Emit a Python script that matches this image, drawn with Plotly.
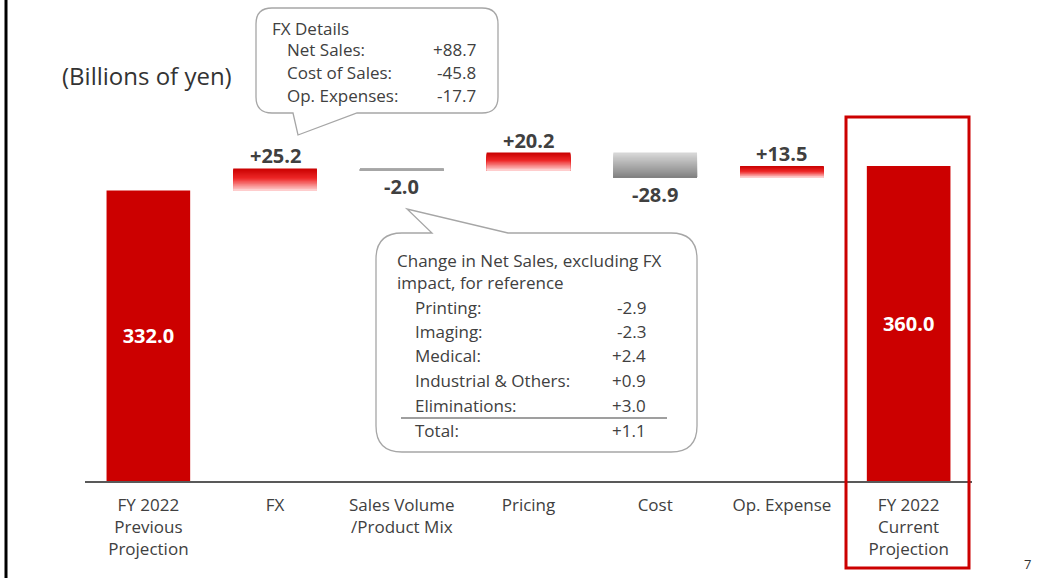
import plotly.graph_objects as go

# ---------------- data ----------------
categories = ["FY 2022<br>Previous<br>Projection", "FX", "Sales Volume<br>/Product Mix",
              "Pricing", "Cost", "Op. Expense", "FY 2022<br>Current<br>Projection"]
start_total = 332.0
end_total = 360.0
deltas = [25.2, -2.0, 20.2, -28.9, 13.5]
delta_labels = ["+25.2", "-2.0", "+20.2", "-28.9", "+13.5"]
total_labels = ["332.0", "360.0"]

fx_title = "FX Details"
fx_items = ["Net Sales:", "Cost of Sales:", "Op. Expenses:"]
fx_values = ["+88.7", "-45.8", "-17.7"]

ns_title = ["Change in Net Sales, excluding FX", "impact, for reference"]
ns_items = ["Printing:", "Imaging:", "Medical:", "Industrial & Others:", "Eliminations:", "Total:"]
ns_values = ["-2.9", "-2.3", "+2.4", "+0.9", "+3.0", "+1.1"]

# ---------------- layout geometry ----------------
W_PX, H_PX = 1037, 578
L, R, T, B = 85, 972, 20, 481
PW, PH = R - L, B - T
PX_PER_UNIT = 0.875
YMAX = PH / PX_PER_UNIT

def px(xp):
    return (xp - L) / PW

def py(yp):
    return (B - yp) / PH

FONT = "Open Sans"
TXT = "#404040"
RED = "#cc0000"
BAR_W = 0.66
CF = 17  # callout font size

fig = go.Figure()

# totals
fig.add_trace(go.Bar(
    x=[0, 6], y=[start_total, end_total], width=BAR_W,
    marker=dict(color=RED, line=dict(width=0)),
    text=total_labels, textposition="inside", insidetextanchor="middle",
    textfont=dict(family=FONT, size=20, color="white", weight="bold"),
    hoverinfo="skip", showlegend=False))

# floating bars with vertical gradient (layered)
def lerp(stops, t):
    for (t0, c0), (t1, c1) in zip(stops[:-1], stops[1:]):
        if t <= t1:
            f = (t - t0) / (t1 - t0) if t1 > t0 else 0
            return tuple(int(round(a + (b - a) * f)) for a, b in zip(c0, c1))
    return stops[-1][1]

red_stops = [(0.0, (200, 0, 0)), (0.45, (238, 40, 40)), (1.0, (255, 212, 212))]
grey_stops = [(0.0, (218, 218, 218)), (1.0, (128, 128, 128))]
flat_grey = [(0.0, (166, 166, 166)), (1.0, (166, 166, 166))]

lows, heights, stops_list, tops = [], [], [], []
running = start_total
for d in deltas:
    lo = min(running, running + d)
    lows.append(lo)
    heights.append(abs(d))
    tops.append(lo + abs(d))
    if abs(d) < 3:
        stops_list.append(flat_grey)
    elif d > 0:
        stops_list.append(red_stops)
    else:
        stops_list.append(grey_stops)
    running += d

N = 24
xs = list(range(1, 1 + len(deltas)))
for j in range(N):
    frac = (N - j) / N
    cols = []
    for st in stops_list:
        c = lerp(st, (j + 0.5) / N)
        cols.append("rgb(%d,%d,%d)" % c)
    fig.add_trace(go.Bar(
        x=xs, y=[h * frac for h in heights], base=lows, width=BAR_W,
        marker=dict(color=cols, line=dict(width=0)),
        hoverinfo="skip", showlegend=False))

annotations = []
# delta labels
for i, d in enumerate(deltas):
    if d > 0:
        annotations.append(dict(x=i + 1, y=tops[i], xref="x", yref="y", text="<b>%s</b>" % delta_labels[i],
                                showarrow=False, yanchor="bottom", yshift=-3,
                                font=dict(family=FONT, size=20, color=TXT)))
    else:
        annotations.append(dict(x=i + 1, y=lows[i], xref="x", yref="y", text="<b>%s</b>" % delta_labels[i],
                                showarrow=False, yanchor="top", yshift=-1,
                                font=dict(family=FONT, size=20, color=TXT)))

# unit label
annotations.append(dict(x=px(60), y=py(75), xref="paper", yref="paper", text="(Billions of yen)",
                        showarrow=False, xanchor="left", yanchor="middle",
                        font=dict(family=FONT, size=24, color="#333333")))

# FX callout text
annotations.append(dict(x=px(270), y=py(28), xref="paper", yref="paper", text=fx_title,
                        showarrow=False, xanchor="left", yanchor="middle",
                        font=dict(family=FONT, size=CF, color=TXT)))
for k, (it, v) in enumerate(zip(fx_items, fx_values)):
    yy = 50 + k * 22.5
    annotations.append(dict(x=px(285), y=py(yy), xref="paper", yref="paper", text=it,
                            showarrow=False, xanchor="left", yanchor="middle",
                            font=dict(family=FONT, size=CF, color=TXT)))
    annotations.append(dict(x=px(478), y=py(yy), xref="paper", yref="paper", text=v,
                            showarrow=False, xanchor="right", yanchor="middle",
                            font=dict(family=FONT, size=CF, color=TXT)))

# Net sales callout text
for k, t in enumerate(ns_title):
    annotations.append(dict(x=px(395), y=py(260 + k * 22), xref="paper", yref="paper", text=t,
                            showarrow=False, xanchor="left", yanchor="middle",
                            font=dict(family=FONT, size=CF, color=TXT)))
ns_y = [307, 331, 355, 380, 405, 430]
for it, v, yy in zip(ns_items, ns_values, ns_y):
    annotations.append(dict(x=px(413), y=py(yy), xref="paper", yref="paper", text=it,
                            showarrow=False, xanchor="left", yanchor="middle",
                            font=dict(family=FONT, size=CF, color=TXT)))
    annotations.append(dict(x=px(648), y=py(yy), xref="paper", yref="paper", text=v,
                            showarrow=False, xanchor="right", yanchor="middle",
                            font=dict(family=FONT, size=CF, color=TXT)))

# page number
annotations.append(dict(x=px(1033), y=py(564), xref="paper", yref="paper", text="7",
                        showarrow=False, xanchor="right", yanchor="middle",
                        font=dict(family=FONT, size=13, color="#333333")))

# ---------------- shapes ----------------
def path_from(cmds):
    out = []
    for c in cmds:
        if c[0] == "Z":
            out.append("Z")
        elif c[0] == "Q":
            out.append("Q%.5f,%.5f %.5f,%.5f" % (px(c[1]), py(c[2]), px(c[3]), py(c[4])))
        else:
            out.append("%s%.5f,%.5f" % (c[0], px(c[1]), py(c[2])))
    return " ".join(out)

def callout(x0, y0, x1, y1, r, tail):
    side, b0, tipx, tipy, b1 = tail
    cmds = [("M", x0 + r, y0)]
    if side == "top":
        cmds += [("L", b0, y0), ("L", tipx, tipy), ("L", b1, y0)]
    cmds += [("L", x1 - r, y0), ("Q", x1, y0, x1, y0 + r), ("L", x1, y1 - r), ("Q", x1, y1, x1 - r, y1)]
    if side == "bottom":
        cmds += [("L", b1, y1), ("L", tipx, tipy), ("L", b0, y1)]
    cmds += [("L", x0 + r, y1), ("Q", x0, y1, x0, y1 - r), ("L", x0, y0 + r), ("Q", x0, y0, x0 + r, y0), ("Z",)]
    return path_from(cmds)

shapes = [
    dict(type="path", xref="paper", yref="paper",
         path=callout(256, 8, 498, 113, 16, ("bottom", 293, 298, 135, 357)),
         line=dict(color="#a6a6a6", width=1.3), fillcolor="white", layer="above"),
    dict(type="path", xref="paper", yref="paper",
         path=callout(376, 233, 697, 452, 26, ("top", 432, 407, 209, 508)),
         line=dict(color="#a6a6a6", width=1.3), fillcolor="white", layer="above"),
    dict(type="line", xref="paper", yref="paper", x0=px(401), x1=px(667), y0=py(418), y1=py(418),
         line=dict(color="#7f7f7f", width=1.5), layer="above"),
    # highlight box around current projection
    dict(type="rect", xref="paper", yref="paper", x0=px(846), x1=px(969), y0=py(117), y1=py(568),
         line=dict(color=RED, width=3), fillcolor="rgba(0,0,0,0)", layer="above"),
    # left page border
    dict(type="line", xref="paper", yref="paper", x0=px(6), x1=px(6), y0=py(-5), y1=py(585),
         line=dict(color="black", width=3), layer="above"),
]

fig.update_layout(
    width=W_PX, height=H_PX,
    margin=dict(l=L, r=W_PX - R, t=T, b=H_PX - B, pad=0),
    paper_bgcolor="white", plot_bgcolor="white",
    barmode="overlay", bargap=0.34,
    showlegend=False,
    xaxis=dict(range=[-0.5, 6.5], tickmode="array", tickvals=list(range(7)), ticktext=categories,
               showline=True, linecolor="#595959", linewidth=1.5, ticks="", showgrid=False,
               zeroline=False, tickfont=dict(family=FONT, size=17, color=TXT), fixedrange=True,
               ticklabelstandoff=8),
    yaxis=dict(range=[0, YMAX], visible=False, showgrid=False, zeroline=False, fixedrange=True),
    annotations=annotations, shapes=shapes,
    font=dict(family=FONT, color=TXT),
)

fig.write_html("out.html")
